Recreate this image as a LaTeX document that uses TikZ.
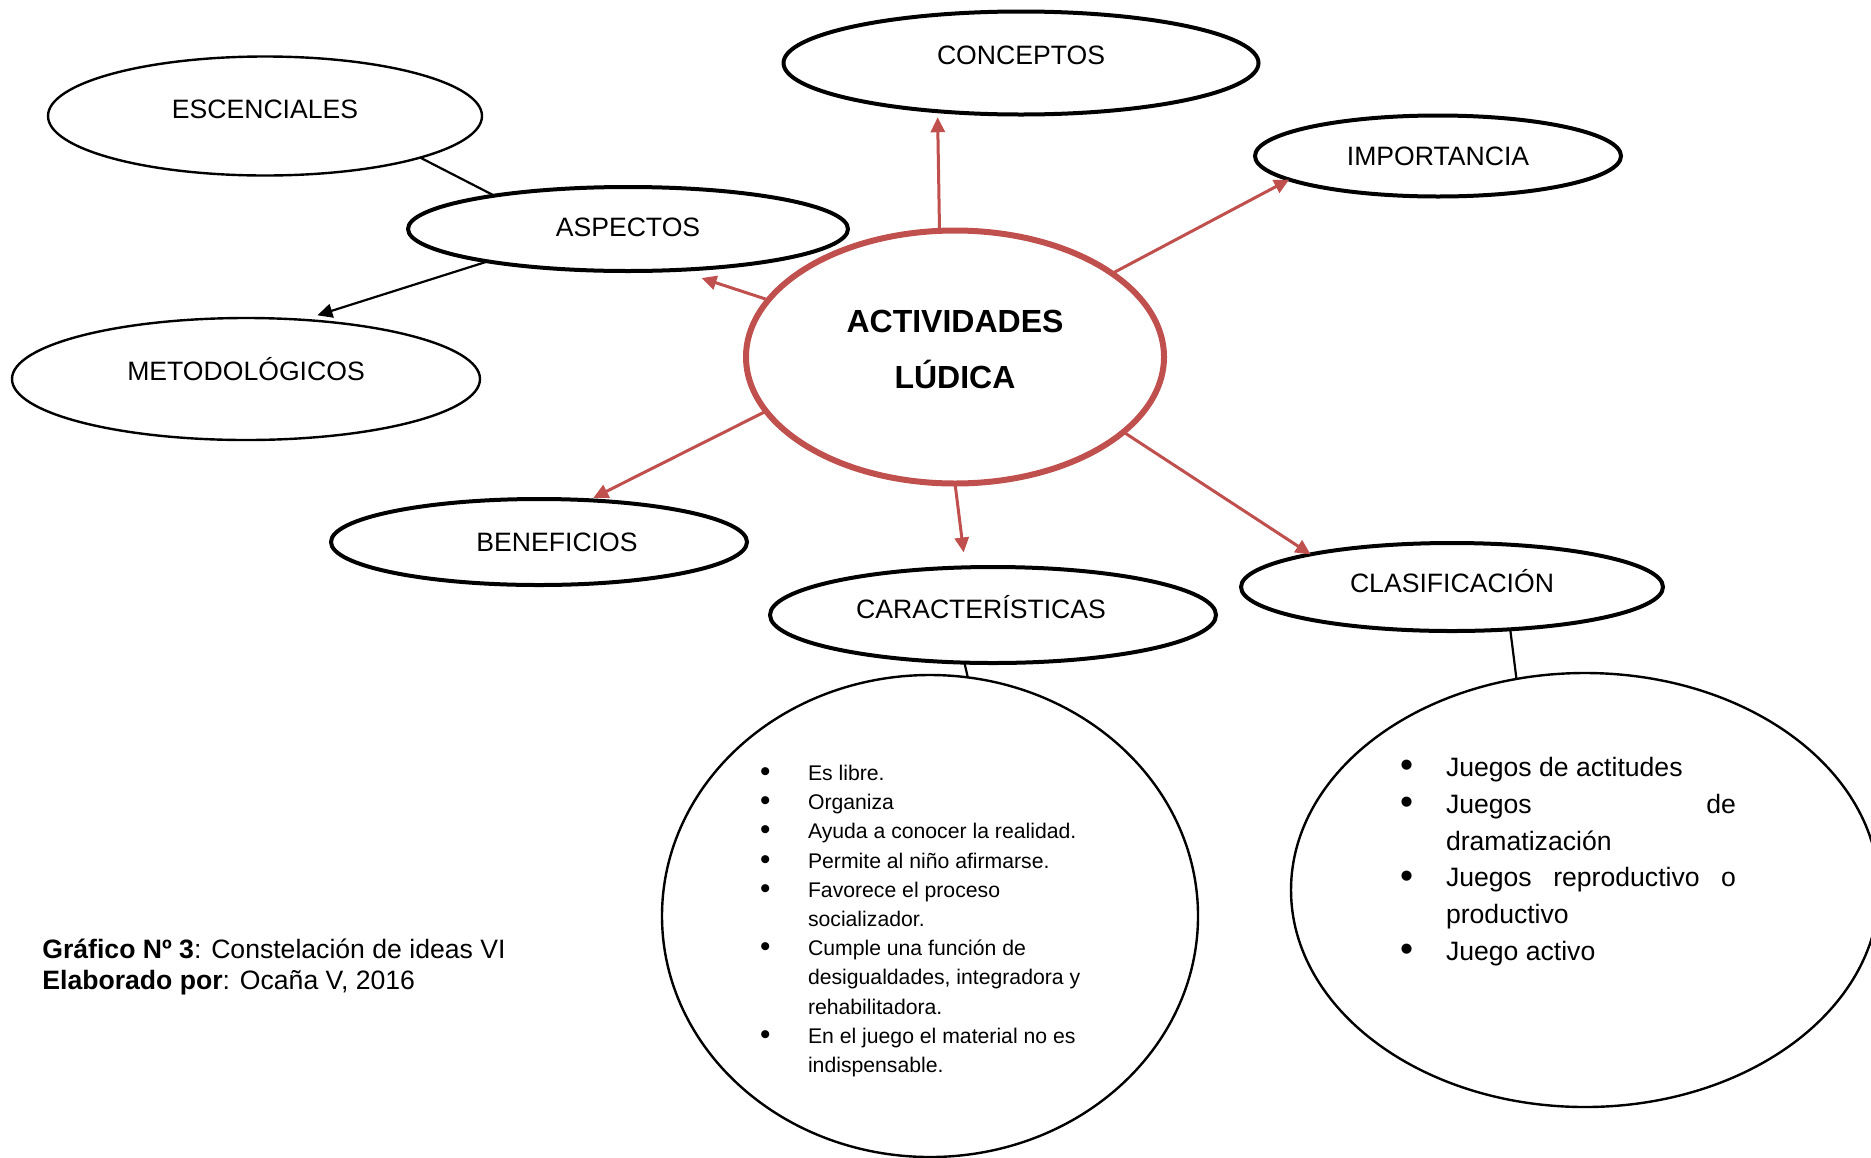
\documentclass[tikz,border=0pt]{standalone}
\usepackage{fontspec}
\setmainfont{Liberation Sans}
\usepackage{tikz}
\usetikzlibrary{shapes.geometric,arrows.meta}

\definecolor{rojo}{HTML}{C0504D}

\newenvironment{vinetas}[2]{%
  \begin{list}{\textbullet}{%
    \setlength{\leftmargin}{#1}\setlength{\labelwidth}{#1}%
    \setlength{\rightmargin}{#2}%
    \setlength{\labelsep}{0pt}\setlength{\itemsep}{0pt}%
    \setlength{\parsep}{0pt}\setlength{\topsep}{0pt}%
    \setlength{\partopsep}{0pt}%
    \renewcommand{\makelabel}[1]{\raisebox{-0.05em}{\scalebox{1.4}{##1}}\hfil}}}%
  {\end{list}}

\begin{document}
\begin{tikzpicture}[x=0.5pt,y=-0.5pt,
  idea/.style={ellipse, draw, line width=2pt, inner sep=0pt, outer sep=0pt,
    font=\fontsize{13.3}{15.5}\selectfont, text height=9.5pt},
  hoja/.style={idea, line width=1.2pt},
  globo/.style={ellipse, draw, line width=1.2pt, inner sep=0pt, outer sep=0pt},
  flecha/.style={color=rojo, line width=1.5pt, -{Triangle[length=7.5pt,width=7pt]}},
  enlace/.style={line width=1.1pt}]

\useasboundingbox (0,0) rectangle (1871,1157);

\node[ellipse, draw=rojo, line width=3pt, minimum width=209pt, minimum height=126.5pt,
  inner sep=0pt, outer sep=0pt, align=center,
  font=\bfseries\fontsize{16}{28}\selectfont, text depth=8pt] (act) at (955,357) {ACTIVIDADES\\LÚDICA};

\node[idea, minimum width=237.5pt, minimum height=51.5pt, text depth=8.4pt] (con) at (1021,63) {CONCEPTOS};
\node[hoja, minimum width=217pt, minimum height=59.5pt, text depth=7.2pt] (esc) at (265,116) {ESCENCIALES};
\node[idea, minimum width=183pt, minimum height=40.5pt, text depth=0pt] (imp) at (1438,156) {IMPORTANCIA};
\node[idea, minimum width=220pt, minimum height=42pt, text depth=2.4pt] (asp) at (628,229) {ASPECTOS};
\node[hoja, minimum width=234pt, minimum height=61pt, text depth=8.4pt] (met) at (246,379) {METODOLÓGICOS};
\node[idea, minimum width=208pt, minimum height=43pt, text depth=0pt] (ben) at (539,542) {\hspace*{18pt}BENEFICIOS};
\node[idea, minimum width=223pt, minimum height=48pt, text depth=6pt] (car) at (993,615) {CARACTERÍSTICAS\hspace*{12pt}};
\node[idea, minimum width=211pt, minimum height=44pt, text depth=3.6pt] (cla) at (1452,587) {CLASIFICACIÓN};

\node[globo, minimum width=268pt, minimum height=241pt] (rasgos) at (930,916) {%
  \begin{minipage}{170pt}\fontsize{10.6}{14.6}\selectfont
  \vspace*{5pt}
  \begin{vinetas}{24pt}{0pt}
  \item Es libre.
  \item Organiza
  \item Ayuda a conocer la realidad.
  \item Permite al niño afirmarse.
  \item Favorece el proceso\newline socializador.
  \item Cumple una función de\newline desigualdades, integradora y\newline rehabilitadora.
  \item En el juego el material no es\newline indispensable.
  \end{vinetas}
  \end{minipage}};

\node[globo, minimum width=294pt, minimum height=217pt] (tipos) at (1585,890) {%
  \begin{minipage}{185pt}\fontsize{13.3}{18.4}\selectfont
  \tolerance=10000 \hyphenpenalty=10000
  \hrule height 0pt width \hsize
  \begin{vinetas}{23pt}{17pt}
  \item Juegos de actitudes
  \item Juegos de\linebreak dramatización
  \item Juegos reproductivo o\linebreak productivo
  \item Juego activo
  \end{vinetas}
  \vspace*{28.4pt}
  \end{minipage}};

\node[anchor=west, align=left, inner sep=0pt, font=\fontsize{13.3}{15.5}\selectfont] (pie) at (42,967)
  {\textbf{Gráfico Nº 3}: Constelación de ideas VI\\\textbf{Elaborado por}: Ocaña V, 2016};

\path[flecha]
  (act.97) edge[shorten >=3pt] (con.210)
  (act.28) edge (imp.189)
  (act.163) edge[shorten >=13pt] (asp.320)
  (act.196) edge[shorten >=2.5pt] (ben.40)
  (act.270) edge[shorten >=7.5pt] (car.120)
  (act.336) edge (cla.167);
\path[enlace]
  (asp.166) edge (esc.345)
  (asp.193) edge[-{Triangle[length=7.5pt,width=7pt]}, shorten >=7.5pt] (met.46)
  (car.239) edge (rasgos.81)
  (cla.324) edge (tipos.108);
\end{tikzpicture}
\end{document}
